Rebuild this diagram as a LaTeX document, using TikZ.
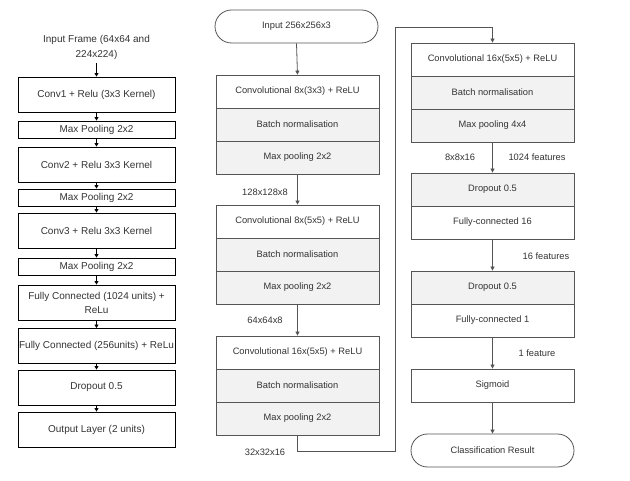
\documentclass[tikz,border=0pt]{standalone}
\usepackage{fontspec}
\setmainfont{Liberation Sans}
\usetikzlibrary{arrows.meta}
\definecolor{lineg}{HTML}{555555}
\definecolor{fillg}{HTML}{F2F2F2}
\definecolor{txt}{HTML}{333333}
\tikzset{
  lbox/.style={draw=black, line width=0.9pt, minimum width=157pt, inner xsep=1pt, inner ysep=0pt, align=center, font=\fontsize{10}{14}\selectfont, text=txt},
  mrow/.style={draw=lineg, line width=0.8pt, minimum width=163pt, minimum height=33pt, inner sep=0pt, align=center, font=\fontsize{9.3}{12}\selectfont, text=txt},
  grey/.style={fill=fillg},
  term/.style={mrow, rounded corners=16.5pt},
  lab/.style={font=\fontsize{9.3}{12}\selectfont, text=txt},
  arr/.style={draw=lineg, line width=0.8pt, -{Triangle[length=4pt,width=4pt]}},
  larr/.style={draw=black, line width=0.8pt, -{Triangle[length=3.5pt,width=4pt]}}
}
\begin{document}
\begin{tikzpicture}[x=1pt,y=-1pt]
\useasboundingbox (0,0) rectangle (630,481);
% left column
\node[font=\fontsize{10}{15}\selectfont, text=txt, align=center] (lin) at (96.5,47) {Input Frame (64x64 and\\224x224)};
\node[lbox, minimum height=35pt] (l1) at (96.5,94.5) {Conv1 + Relu (3x3 Kernel)};
\node[lbox, minimum height=17pt] (l2) at (96.5,129.5) {Max Pooling 2x2};
\node[lbox, minimum height=35pt] (l3) at (96.5,164.5) {Conv2 + Relu 3x3 Kernel};
\node[lbox, minimum height=17pt] (l4) at (96.5,197.5) {Max Pooling 2x2};
\node[lbox, minimum height=35pt] (l5) at (96.5,230.5) {Conv3 + Relu 3x3 Kernel};
\node[lbox, minimum height=17pt] (l6) at (96.5,266.5) {Max Pooling 2x2};
\node[lbox, minimum height=35pt] (l7) at (96.5,302.5) {Fully Connected (1024 units) +\\ReLu};
\node[lbox, minimum height=35pt] (l8) at (96.5,346) {Fully Connected (256units) + ReLu};
\node[lbox, minimum height=35pt] (l9) at (96.5,387.5) {Dropout 0.5};
\node[lbox, minimum height=35pt] (l10) at (96.5,429.5) {Output Layer (2 units)};
\draw[larr] (lin.south) -- (l1.north);
\draw[larr] (l1.south) -- (l2.north);
\draw[larr] (l2.south) -- (l3.north);
\draw[larr] (l3.south) -- (l4.north);
\draw[larr] (l4.south) -- (l5.north);
\draw[larr] (l5.south) -- (l6.north);
\draw[larr] (l6.south) -- (l7.north);
\draw[larr] (l7.south) -- (l8.north);
\draw[larr] (l8.south) -- (l9.north);
\draw[larr] (l9.south) -- (l10.north);
% middle column
\node[term] (min) at (296.5,26.5) {Input 256x256x3};
\node[mrow] (m1a) at (297.5,91.5) {Convolutional 8x(3x3) + ReLU};
\node[mrow,grey] (m1b) at (297.5,124.5) {Batch normalisation};
\node[mrow,grey] (m1c) at (297.5,157.5) {Max pooling 2x2};
\node[mrow] (m2a) at (297.5,221.5) {Convolutional 8x(5x5) + ReLU};
\node[mrow,grey] (m2b) at (297.5,254.5) {Batch normalisation};
\node[mrow,grey] (m2c) at (297.5,287.5) {Max pooling 2x2};
\node[mrow] (m3a) at (297.5,352.5) {Convolutional 16x(5x5) + ReLU};
\node[mrow,grey] (m3b) at (297.5,385.5) {Batch normalisation};
\node[mrow,grey] (m3c) at (297.5,418.5) {Max pooling 2x2};
\draw[arr] (min.south) -- (m1a.north);
\draw[arr] (m1c.south) -- (m2a.north);
\draw[arr] (m2c.south) -- (m3a.north);
\node[lab] (t1) at (265,192) {128x128x8};
\node[lab] (t2) at (265,320) {64x64x8};
\node[lab] (t3) at (265,452) {32x32x16};
% right column
\node[mrow] (r1a) at (492.5,59.5) {Convolutional 16x(5x5) + ReLU};
\node[mrow,grey] (r1b) at (492.5,92.5) {Batch normalisation};
\node[mrow,grey] (r1c) at (492.5,125.5) {Max pooling 4x4};
\node[mrow,grey] (r2a) at (492.5,189.5) {Dropout 0.5};
\node[mrow] (r2b) at (492.5,222.5) {Fully-connected 16};
\node[mrow,grey] (r3a) at (492.5,287.5) {Dropout 0.5};
\node[mrow] (r3b) at (492.5,320.5) {Fully-connected 1};
\node[mrow] (r4) at (492.5,385.5) {Sigmoid};
\node[term] (r5) at (492.5,450.5) {Classification Result};
\draw[arr] (r1c.south) -- (r2a.north);
\draw[arr] (r2b.south) -- (r3a.north);
\draw[arr] (r3b.south) -- (r4.north);
\draw[arr] (r4.south) -- (r5.north);
\node[lab] (t4) at (460,157) {8x8x16};
\node[lab] (t5) at (537,157) {1024 features};
\node[lab] (t6) at (546,256) {16 features};
\node[lab] (t7) at (537,353) {1 feature};
% long connector
\coordinate (c1) at (395,451);
\coordinate (c2) at (395,27);
\draw[arr] (m3c.south) |- (c1) -- (c2) -| (r1a.north);
\end{tikzpicture}
\end{document}
